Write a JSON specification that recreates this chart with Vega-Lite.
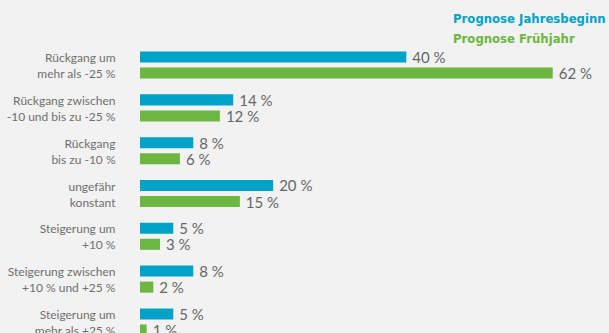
{
  "$schema": "https://vega.github.io/schema/vega-lite/v6.json",
  "width": 466,
  "height": 301,
  "autosize": "none",
  "padding": {"left": 140, "top": 43, "right": 3, "bottom": 0},
  "background": "#f2f2f2",
  "config": {"view": {"stroke": null}, "font": "Lato"},
  "data": {
    "values": [
      {"cat": "Rückgang um|mehr als -25 %", "series": "Prognose Jahresbeginn", "value": 40, "label": "40 %"},
      {"cat": "Rückgang um|mehr als -25 %", "series": "Prognose Frühjahr", "value": 62, "label": "62 %"},
      {"cat": "Rückgang zwischen|-10 und bis zu -25 %", "series": "Prognose Jahresbeginn", "value": 14, "label": "14 %"},
      {"cat": "Rückgang zwischen|-10 und bis zu -25 %", "series": "Prognose Frühjahr", "value": 12, "label": "12 %"},
      {"cat": "Rückgang|bis zu -10 %", "series": "Prognose Jahresbeginn", "value": 8, "label": "8 %"},
      {"cat": "Rückgang|bis zu -10 %", "series": "Prognose Frühjahr", "value": 6, "label": "6 %"},
      {"cat": "ungefähr|konstant", "series": "Prognose Jahresbeginn", "value": 20, "label": "20 %"},
      {"cat": "ungefähr|konstant", "series": "Prognose Frühjahr", "value": 15, "label": "15 %"},
      {"cat": "Steigerung um|+10 %", "series": "Prognose Jahresbeginn", "value": 5, "label": "5 %"},
      {"cat": "Steigerung um|+10 %", "series": "Prognose Frühjahr", "value": 3, "label": "3 %"},
      {"cat": "Steigerung zwischen|+10 % und +25 %", "series": "Prognose Jahresbeginn", "value": 8, "label": "8 %"},
      {"cat": "Steigerung zwischen|+10 % und +25 %", "series": "Prognose Frühjahr", "value": 2, "label": "2 %"},
      {"cat": "Steigerung um|mehr als +25 %", "series": "Prognose Jahresbeginn", "value": 5, "label": "5 %"},
      {"cat": "Steigerung um|mehr als +25 %", "series": "Prognose Frühjahr", "value": 1, "label": "1 %"}
    ]
  },
  "encoding": {
    "y": {
      "field": "cat",
      "type": "nominal",
      "sort": null,
      "scale": {"paddingInner": 0.369, "paddingOuter": 0.2},
      "axis": {
        "title": null,
        "domain": false,
        "ticks": false,
        "labelPadding": 25,
        "labelExpr": "split(datum.label, '|')",
        "labelFont": "Lato",
        "labelFontSize": 12,
        "labelColor": "#6f6f6f",
        "labelLineHeight": 16,
        "labelOffset": -7,
        "labelLimit": 200
      }
    },
    "yOffset": {
      "field": "series",
      "sort": ["Prognose Jahresbeginn", "Prognose Frühjahr"],
      "scale": {"paddingInner": 0.3125, "paddingOuter": 0}
    },
    "x": {
      "field": "value",
      "type": "quantitative",
      "scale": {"domain": [0, 70]},
      "axis": null
    }
  },
  "layer": [
    {
      "mark": {"type": "bar"},
      "encoding": {
        "color": {
          "field": "series",
          "type": "nominal",
          "sort": ["Prognose Jahresbeginn", "Prognose Frühjahr"],
          "scale": {"domain": ["Prognose Jahresbeginn", "Prognose Frühjahr"], "range": ["#00a2c8", "#6cb641"]},
          "legend": {
            "title": null,
            "orient": "none",
            "legendX": 300,
            "legendY": -31,
            "direction": "vertical",
            "symbolSize": 0,
            "symbolOpacity": 0,
            "symbolStrokeWidth": 0,
            "labelOffset": 0,
            "labelFont": "DejaVu Sans Condensed",
            "labelFontSize": 13,
            "labelFontWeight": "bold",
            "labelLimit": 300,
            "rowPadding": 6,
            "padding": 0,
            "encode": {
              "labels": {"update": {"fill": {"scale": "color", "field": "value"}}}
            }
          }
        }
      }
    },
    {
      "mark": {"type": "text", "align": "left", "baseline": "middle", "dx": 6, "dy": 1, "fontSize": 15, "color": "#666666", "font": "Lato"},
      "encoding": {"text": {"field": "label"}}
    }
  ]
}
